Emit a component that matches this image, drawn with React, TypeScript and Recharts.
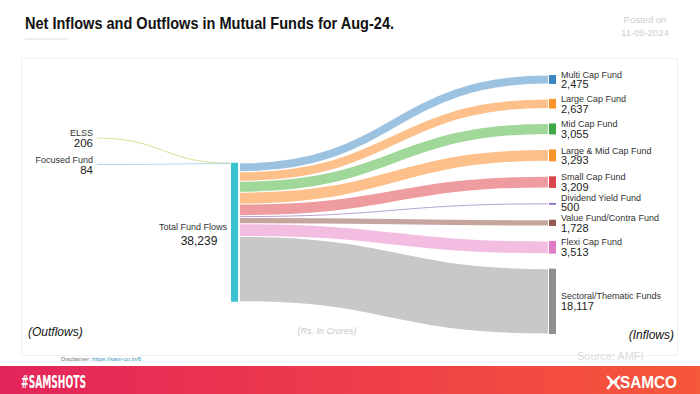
import React from 'react';
import { Sankey, Layer } from 'recharts';

// ---------- data ----------
const outflowFunds = ['ELSS', 'Focused Fund'];
const outflowValues = [206, 84];
const totalName = 'Total Fund Flows';
const totalDisplayed = 38239;
const inflowFunds = [
  'Multi Cap Fund',
  'Large Cap Fund',
  'Mid Cap Fund',
  'Large & Mid Cap Fund',
  'Small Cap Fund',
  'Dividend Yield Fund',
  'Value Fund/Contra Fund',
  'Flexi Cap Fund',
  'Sectoral/Thematic Funds',
];
const inflowValues = [2475, 2637, 3055, 3293, 3209, 500, 1728, 3513, 18117];

// ---------- styles ----------
const outflowLinkColors = ['#dcdc9a', '#a8dde6'];
const inflowNodeColors = ['#3a86c0', '#f8922a', '#3da944', '#f8922a', '#d9434a', '#8e6cc0', '#93584e', '#e27bc6', '#8f8f8f'];
const inflowLinkColors = ['#9cc2e2', '#fdc08a', '#a0d89a', '#fdc08a', '#ee9c9f', '#b9a3d6', '#c6a59e', '#f2bde0', '#c8c8c8'];
const totalColor = '#3bc3d3';
const LEFT_X = 97; // x of the outflow (left) column anchors
const LEFT_GAP = 26; // vertical spacing between outflow labels
const FONT = "'Liberation Sans', Arial, sans-serif";

const fmt = (v: number) => v.toLocaleString('en-US');

const sankeyData = {
  nodes: [
    ...outflowFunds.map((name) => ({ name })),
    { name: totalName },
    ...inflowFunds.map((name) => ({ name })),
  ],
  links: [
    ...outflowValues.map((value, i) => ({ source: i, target: outflowFunds.length, value })),
    ...inflowValues.map((value, i) => ({ source: outflowFunds.length, target: outflowFunds.length + 1 + i, value })),
  ],
};

const renderNode = (p: any) => {
  const { x, y, width, height, index, payload } = p;
  const name = payload.name;
  const cy = y + height / 2;
  if (outflowFunds.indexOf(name) >= 0) {
    // outflow nodes are invisible anchors; their labels are drawn with their links
    return <Layer key={`n${index}`} />;
  }
  if (name === totalName) {
    return (
      <Layer key={`n${index}`}>
        <rect x={x} y={y} width={width} height={height} fill={totalColor} />
        <text x={x - 4} y={cy - 5.5} dy="0.35em" textAnchor="end" fontSize={9} fill="#333" fontFamily={FONT}>{name}</text>
        <text x={x - 32} y={cy + 8.5} dy="0.35em" textAnchor="middle" fontSize={12} fill="#222" fontFamily={FONT}>{fmt(totalDisplayed)}</text>
      </Layer>
    );
  }
  const ii = inflowFunds.indexOf(name);
  const ly = cy - (height < 3 ? 1.2 : 0); // nudge labels of hairline nodes slightly up
  return (
    <Layer key={`n${index}`}>
      <rect x={x} y={y} width={width} height={Math.max(height, 1)} fill={inflowNodeColors[ii]} />
      <text x={x + width + 5} y={ly - 5} dy="0.35em" fontSize={9} fill="#333" fontFamily={FONT}>{name}</text>
      <text x={x + width + 5} y={ly + 5} dy="0.35em" fontSize={11} fill="#222" fontFamily={FONT}>{fmt(inflowValues[ii])}</text>
    </Layer>
  );
};

const renderLink = (p: any) => {
  const { sourceX, targetX, sourceY, targetY, linkWidth, index, payload } = p;
  const oi = outflowFunds.indexOf(payload.source.name);
  const tx = targetX - 1;
  if (oi >= 0) {
    const sx = LEFT_X;
    const sy = targetY + 1 - (outflowFunds.length - 1 - oi) * LEFT_GAP;
    const cx = (sx + tx) / 2;
    return (
      <Layer key={`l${index}`}>
        <path
          d={`M${sx},${sy} C${cx},${sy} ${cx},${targetY} ${tx},${targetY}`}
          stroke={outflowLinkColors[oi]}
          strokeWidth={Math.max(linkWidth, 1)}
          fill="none"
        />
        <text x={sx - 4} y={sy - 5} dy="0.35em" textAnchor="end" fontSize={9} fill="#333" fontFamily={FONT}>{outflowFunds[oi]}</text>
        <text x={sx - 4} y={sy + 5} dy="0.35em" textAnchor="end" fontSize={11.5} fill="#222" fontFamily={FONT}>{fmt(outflowValues[oi])}</text>
      </Layer>
    );
  }
  const sx = sourceX + 2;
  const cx = (sx + tx) / 2;
  return (
    <path
      key={`l${index}`}
      d={`M${sx},${sourceY} C${cx},${sourceY} ${cx},${targetY} ${tx},${targetY}`}
      stroke={inflowLinkColors[inflowFunds.indexOf(payload.target.name)]}
      strokeWidth={Math.max(linkWidth - 1, 1)}
      fill="none"
    />
  );
};

export default function App() {
  return (
    <div style={{ position: 'absolute', left: 0, top: 0, width: 700, height: 394, background: '#fff', overflow: 'hidden' }}>
      <svg width={700} height={394} style={{ position: 'absolute', left: 0, top: 0 }}>
        <defs>
          <linearGradient id="foot" x1="0" x2="1" y1="0" y2="0">
            <stop offset="0%" stopColor="#e3245b" />
            <stop offset="55%" stopColor="#ef3f48" />
            <stop offset="100%" stopColor="#f6583a" />
          </linearGradient>
        </defs>
        <text x={25} y={29} fontSize={17} fontWeight="bold" fill="#111" fontFamily="'Liberation Sans Narrow', 'Liberation Sans', Arial, sans-serif" textLength={369} lengthAdjust="spacingAndGlyphs">
          Net Inflows and Outflows in Mutual Funds for Aug-24.
        </text>
        <line x1={25} x2={68} y1={39} y2={39} stroke="#ddd" strokeWidth={1} />
        <text x={645} y={23} fontSize={9.5} fill="#cfcfcf" textAnchor="middle" fontFamily={FONT}>Posted on</text>
        <text x={645} y={36} fontSize={9.5} fill="#cfcfcf" textAnchor="middle" fontFamily={FONT}>11-09-2024</text>
        <rect x={21.5} y={58.5} width={656} height={297} fill="none" stroke="#f1f1f1" />
        <text x={28} y={336} fontSize={12} fontStyle="italic" fill="#111" fontFamily={FONT}>(Outflows)</text>
        <text x={674} y={339} fontSize={12} fontStyle="italic" fill="#111" textAnchor="end" fontFamily={FONT}>(Inflows)</text>
        <text x={327} y={334} fontSize={9} fontStyle="italic" fill="#c8c8c8" textAnchor="middle" fontFamily={FONT}>(Rs. In Crores)</text>
        <text x={61} y={361} fontSize={6} fill="#777" fontFamily={FONT}>
          Disclaimer: <tspan fill="#3a8fc0">https://sam-co.in/6</tspan>
        </text>
        <text x={577} y={360} fontSize={11} fill="#dcdcdc" fontFamily={FONT}>Source: AMFI</text>
        <rect x={0} y={366} width={700} height={28} fill="url(#foot)" />
        <text x={21} y={388} fontSize={18} fontWeight="bold" fill="#fff" fontFamily="'Liberation Sans Narrow', 'DejaVu Sans Condensed', sans-serif" textLength={65} lengthAdjust="spacingAndGlyphs">#SAMSHOTS</text>
        <g stroke="#fff" strokeWidth={2.4} fill="none" strokeLinecap="square">
          <path d="M608,377 L613,382 L608,388" />
          <path d="M619,377 L614,382 L619,388" />
          <path d="M611,382 L616,382" />
        </g>
        <text x={620} y={388} fontSize={16} fontWeight="bold" fill="#fff" fontFamily={FONT} textLength={57} lengthAdjust="spacingAndGlyphs">SAMCO</text>
      </svg>
      <div style={{ position: 'absolute', left: 0, top: 0 }}>
        <Sankey
          width={700}
          height={394}
          data={sankeyData}
          margin={{ top: 75, bottom: 60, left: -87, right: 144 }}
          nodeWidth={7}
          nodePadding={15}
          sort={false}
          node={renderNode}
          link={renderLink}
          isAnimationActive={false}
        />
      </div>
    </div>
  );
}
